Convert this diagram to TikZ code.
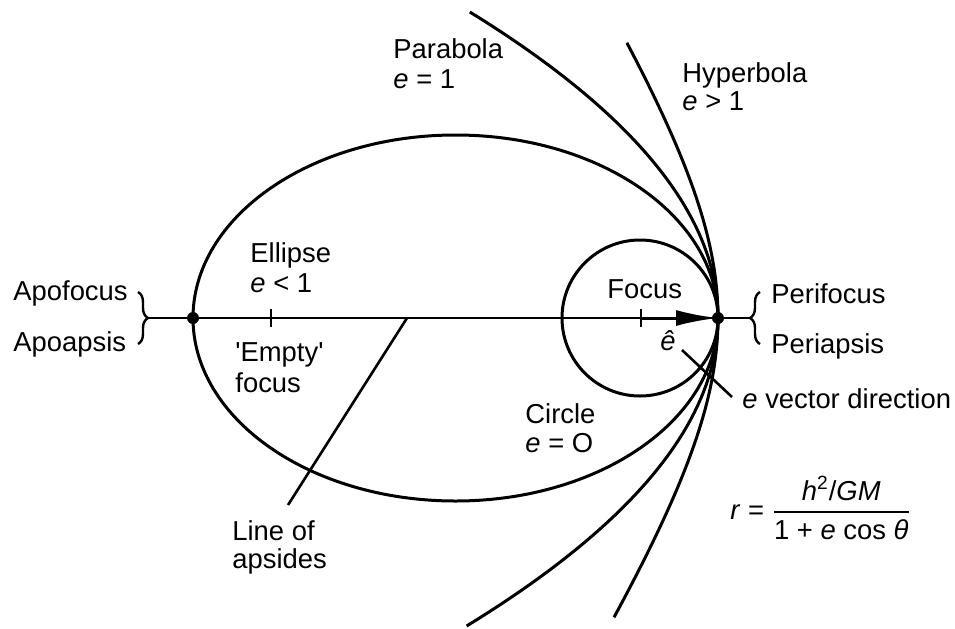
\documentclass[tikz,border=0pt]{standalone}
\usepackage{amsmath}
\usepackage{fontspec}
\setmainfont{Liberation Sans}
\usetikzlibrary{arrows.meta,decorations.pathreplacing}
\begin{document}
\begin{tikzpicture}[x=0.5pt,y=-0.5pt,
  curve/.style={line width=1.5pt},
  axisline/.style={line width=1.3pt},
  leader/.style={line width=1.3pt},
  bracestyle/.style={line width=1.2pt, decorate, decoration={brace, amplitude=5pt}},
  lbl/.style={anchor=base west, inner sep=0pt, font=\fontsize{13.7}{16}\selectfont},
  dot/.style={circle, fill=black, inner sep=0pt, minimum size=6pt}
]
\useasboundingbox[fill=white] (0,0) rectangle (955,628);

% key points
\coordinate (lbrace) at (148,318);
\coordinate (rbrace) at (750,318);
\node[dot] (apo) at (193,318) {};
\node[dot] (peri) at (718,318) {};
\coordinate (F) at (641,318);
\coordinate (F2) at (271,318);

% conics
\draw[curve] (455.5,318) ellipse [x radius=262.5, y radius=183];
\draw[curve] (640,318) circle [radius=78];
\draw[curve, domain=-3.06:3.08, samples=90, variable=\t]
  plot ({718-26.5*\t*\t},{318+100*\t});
\draw[curve, domain=-1.12:1.19, samples=90, variable=\u]
  plot ({849-131*cosh(\u)},{318+201*sinh(\u)});

% axis (line of apsides)
\draw[axisline] (lbrace) -- (rbrace);
\draw[axisline] (F2) ++(0,-9) -- ++(0,18);
\draw[axisline] (F) ++(0,-9) -- ++(0,18);
\draw[line width=1.5pt, -{Latex[length=21pt,width=8pt]}] (F) -- (peri.center);

% braces
\draw[bracestyle] (138,292) -- (138,344);
\draw[bracestyle] (760,344) -- (760,292);

% leaders
\coordinate (apsA) at (407,318);
\coordinate (apsB) at (288,505);
\draw[leader] (apsA) -- (apsB);
\coordinate (evA) at (682,350);
\coordinate (evB) at (732,397);
\draw[leader] (evA) -- (evB);

% labels
\node[lbl] (parab) at (393,58) {Parabola};
\node[lbl] (parabe) at (393,88) {\textit{e} = 1};
\node[lbl] (hyp) at (682,82) {Hyperbola};
\node[lbl] (hype) at (682,110) {\textit{e} > 1};
\node[lbl] (ell) at (250,262) {Ellipse};
\node[lbl] (elle) at (250,292) {\textit{e} < 1};
\node[lbl] (apof) at (13,300) {Apofocus};
\node[lbl] (apoa) at (13,351) {Apoapsis};
\node[lbl] (perif) at (771,303) {Perifocus};
\node[lbl] (peria) at (771,353) {Periapsis};
\node[lbl] (focus) at (607,298) {Focus};
\node[lbl] (empty) at (235,361) {\textquotesingle Empty\textquotesingle};
\node[lbl] (emptyf) at (235,392) {focus};
\node[lbl] (circ) at (525,423) {Circle};
\node[lbl] (circe) at (525,452) {\textit{e} = O};
\node[lbl] (loa) at (232,540) {Line of};
\node[lbl] (loa2) at (232,568) {apsides};
\node[lbl] (evec) at (742,408) {\textit{e} vector direction};
\node[anchor=center, inner sep=0pt, font=\fontsize{13.7}{16}\selectfont] (ehat) at (668,341) {\textit{ê}};
\node[anchor=west, inner sep=0pt, font=\fontsize{13.7}{16}\selectfont] (formula) at (730,508)
  {\textit{r} = $\genfrac{}{}{1pt}{0}{\mbox{\textit{h}\textsuperscript{2}/\textit{GM}}}{\mbox{1 + \textit{e} cos \textit{θ}}}$};
\end{tikzpicture}
\end{document}
